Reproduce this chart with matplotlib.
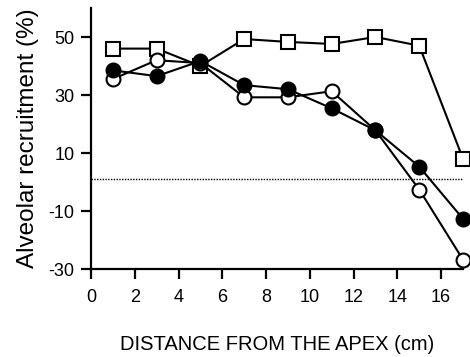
import matplotlib
matplotlib.use("Agg")
import matplotlib.pyplot as plt

plt.rcParams['font.family'] = ['Liberation Sans', 'DejaVu Sans']
plt.rcParams['axes.unicode_minus'] = False

distance = [1, 3, 5, 7, 9, 11, 13, 15, 17]
squares = [46, 46, 40, 49.3, 48.3, 47.6, 50, 47, 8]
filled_circles = [38.5, 36.5, 41.7, 33.4, 32, 25.4, 17.8, 5.3, -12.7]
open_circles = [35.5, 42, 41, 29.2, 29.2, 31.3, 17.8, -2.6, -26.8]
reference_level = 1

x_ticks = [0, 2, 4, 6, 8, 10, 12, 14, 16]
y_ticks = [-30, -10, 10, 30, 50]

fig = plt.figure(figsize=(4.7, 3.57), dpi=100)
ax = fig.add_axes([91 / 470, 1 - 269 / 357, (463 - 91) / 470, (269 - 8) / 357])

ax.plot([0, 17], [reference_level] * 2, linestyle=(0, (1, 1)), color='black',
        linewidth=1.0, zorder=1)

style = dict(color='black', linewidth=1.5, markersize=10, markeredgewidth=1.5,
             markeredgecolor='black', clip_on=False)
ax.plot(distance, squares, marker='s', markerfacecolor='white', zorder=3, **style)
ax.plot(distance, open_circles, marker='o', markerfacecolor='white', zorder=3, **style)
ax.plot(distance, filled_circles, marker='o', markerfacecolor='black', zorder=4, **style)

ax.set_xlim(0, 17)
ax.set_ylim(-30, 60)
ax.set_xticks(x_ticks)
ax.set_yticks(y_ticks)
ax.spines['top'].set_visible(False)
ax.spines['right'].set_visible(False)
for s in ('left', 'bottom'):
    ax.spines[s].set_linewidth(1.6)
ax.tick_params(direction='out', length=7.5, width=1.6, labelsize=13)
ax.tick_params(axis='y', pad=4.5)
ax.tick_params(axis='x', pad=7)

ax.set_xlabel('DISTANCE FROM THE APEX (cm)', fontsize=14.5, labelpad=21)
ax.set_ylabel('Alveolar recruitment (%)', fontsize=17.5, labelpad=7)

fig.savefig('out.png', dpi=100)
